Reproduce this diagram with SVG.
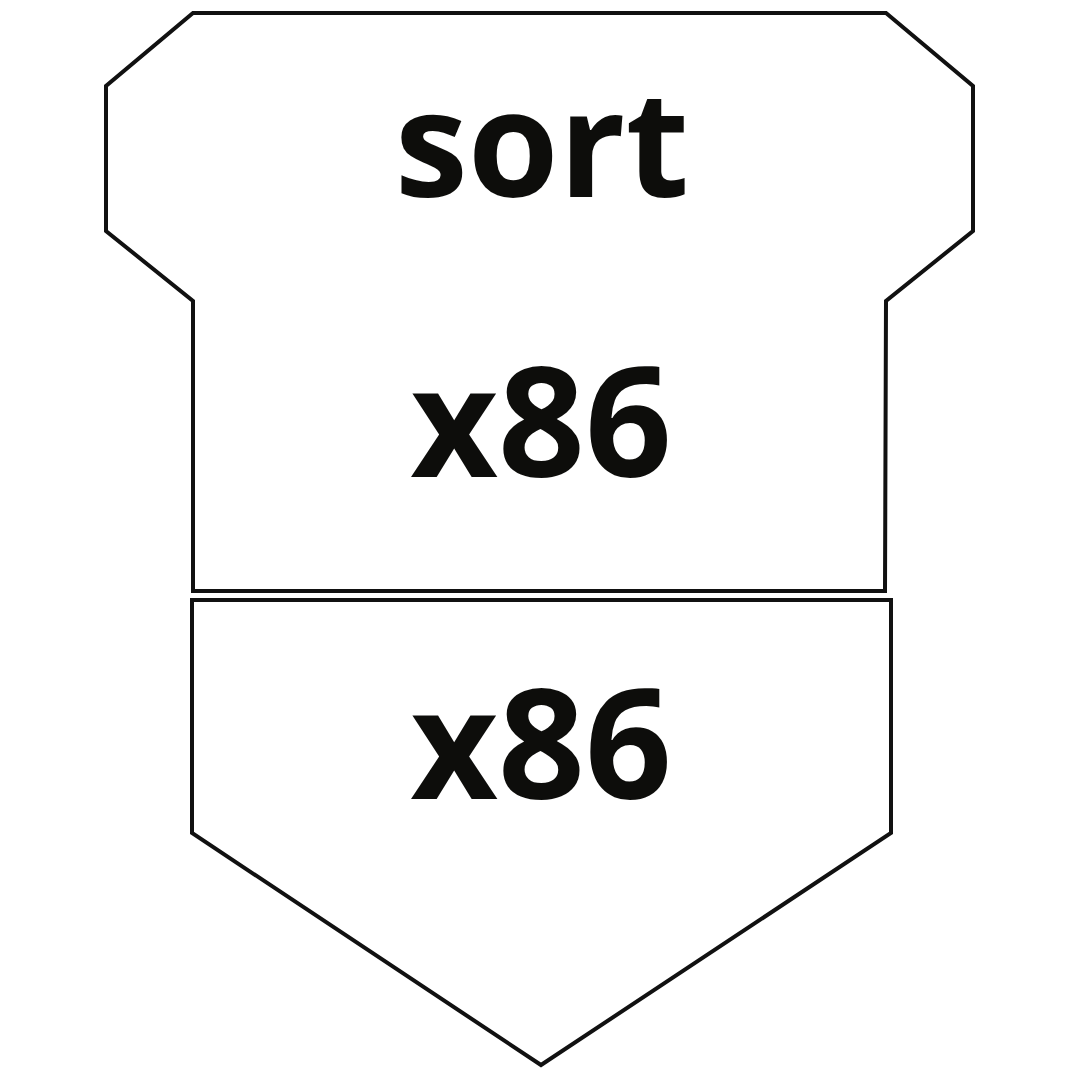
<svg xmlns="http://www.w3.org/2000/svg" width="1080" height="1080" viewBox="0 0 1080 1080">
<style>
.s{fill:#fff;stroke:#111;stroke-width:4;stroke-linejoin:miter}
.t{font-family:"Open Sans","Noto Sans",sans-serif;font-weight:700;fill:#0d0d0b;text-anchor:middle}
</style>
<rect width="1080" height="1080" fill="#fff"/>
<g id="top">
<polygon class="s" points="193,13 886,13 973,86 973,231 886,301 885,591 193,591 193,301 106,231 106,86"/>
<text class="t" x="542" y="197" font-size="147">sort</text>
<text class="t" x="541" y="477" font-size="152">x86</text>
</g>
<g id="bottom">
<polygon class="s" points="192,600 891,600 891,833 541,1065 192,833"/>
<text class="t" x="541" y="799" font-size="152">x86</text>
</g>
<g id="connectors"/>
</svg>
